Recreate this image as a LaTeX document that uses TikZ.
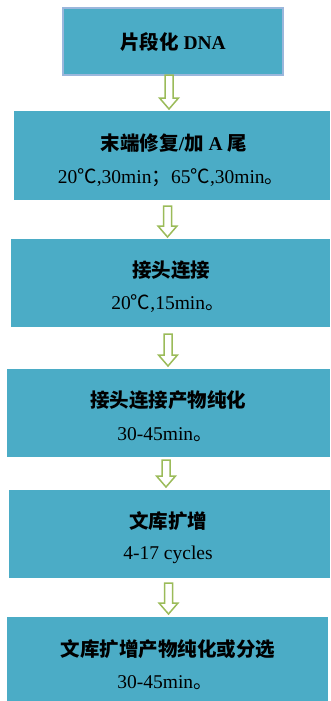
\documentclass[tikz,border=0pt]{standalone}
\usepackage{fontspec}
\setmainfont{Liberation Serif}
\newfontfamily\cjk{Noto Sans CJK SC}
\definecolor{boxfill}{RGB}{75,172,198}
\definecolor{boxline}{RGB}{155,183,220}
\definecolor{arrowgreen}{RGB}{155,187,89}
\newcommand\barrow[3]{%
  \draw[arrowline] (#1-4,#2) -- (#1+4,#2) -- (#1+4,#3-11) -- (#1+9.5,#3-11)
    -- (#1,#3) -- (#1-9.5,#3-11) -- (#1-4,#3-11) -- cycle;}
\begin{document}
\begin{tikzpicture}[x=1pt,y=-1pt,
  box/.style={fill=boxfill, draw=none, anchor=north west, inner sep=0pt, outer sep=0pt},
  arrowline/.style={draw=arrowgreen, line width=1.5pt, fill=white, line join=miter},
  title/.style={font=\fontsize{19.5}{21}\selectfont\bfseries, inner sep=0pt},
  sub/.style={font=\fontsize{19.5}{21}\selectfont, inner sep=0pt}]
\useasboundingbox (0,0) rectangle (330,701);
% boxes
\node[box, draw=boxline, line width=1.8pt, minimum width=220pt, minimum height=67pt] (b1) at (63,8) {};
\node[box, minimum width=316pt, minimum height=89pt] (b2) at (14,111) {};
\node[box, minimum width=319pt, minimum height=88pt] (b3) at (11,239) {};
\node[box, minimum width=323pt, minimum height=88pt] (b4) at (7,369) {};
\node[box, minimum width=321pt, minimum height=88pt] (b5) at (9,490) {};
\node[box, minimum width=321pt, minimum height=84pt] (b6) at (7,617) {};
% texts
\node[title] (t1) at (173,42) {{\cjk 片段化} DNA};
\node[title] (t2) at (174,143) {{\cjk 末端修复}/{\cjk 加} A {\cjk 尾}};
\node[sub] (s2) at (171,178) {20{\cjk ℃},30min{\cjk ；}65{\cjk ℃},30min{\cjk 。}};
\node[title] (t3) at (171,270) {\cjk 接头连接};
\node[sub] (s3) at (168,304) {20{\cjk ℃},15min{\cjk 。}};
\node[title] (t4) at (168,400) {\cjk 接头连接产物纯化};
\node[sub] (s4) at (165,435) {30-45min{\cjk 。}};
\node[title] (t5) at (168,521) {\cjk 文库扩增};
\node[sub] (s5) at (168,555) {4-17 cycles};
\node[title] (t6) at (168,649) {\cjk 文库扩增产物纯化或分选};
\node[sub] (s6) at (165,683) {30-45min{\cjk 。}};
% arrows
\barrow{169}{75}{109}
\barrow{167.5}{206}{237}
\barrow{168}{334}{366}
\barrow{166}{460}{487}
\barrow{168.5}{583}{614}
\end{tikzpicture}
\end{document}
